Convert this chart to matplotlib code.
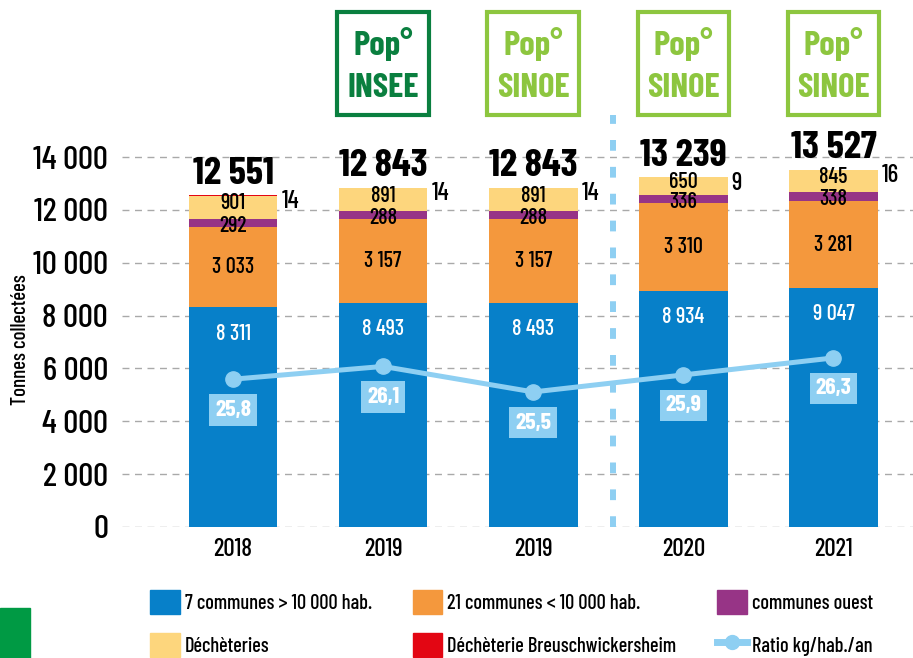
"""Tonnages collectés par type de collecte, 2018-2021, avec ratio kg/hab./an."""

import matplotlib

matplotlib.use("Agg")

import matplotlib.pyplot as plt
import numpy as np
from matplotlib import font_manager
from matplotlib.lines import Line2D
from matplotlib.patches import Patch, Rectangle

YEARS = ["2018", "2019", "2019", "2020", "2021"]
COMMUNES_7 = [8311, 8493, 8493, 8934, 9047]
COMMUNES_21 = [3033, 3157, 3157, 3310, 3281]
COMMUNES_OUEST = [292, 288, 288, 336, 338]
DECHETERIES = [901, 891, 891, 650, 845]
BREUSCHWICKERSHEIM = [14, 14, 14, 9, 16]
RATIO = [25.8, 26.1, 25.5, 25.9, 26.3]
POP_SOURCE = ["", "INSEE", "SINOE", "SINOE", "SINOE"]
Y_TICKS = [0, 2000, 4000, 6000, 8000, 10000, 12000, 14000]

BLUE = "#0780c9"
ORANGE = "#f4983d"
PURPLE = "#973486"
YELLOW = "#fdd67d"
RED = "#e30613"
LIGHT_BLUE = "#8ecff2"
DARK_GREEN = "#0a7f3f"
LIGHT_GREEN = "#8dc63f"

# condensed face if one is around, DejaVu condensed otherwise
installed = {f.name for f in font_manager.fontManager.ttflist}
FONT = next((name for name in ["Barlow Condensed", "Roboto Condensed"] if name in installed), "DejaVu Sans")
plt.rcParams["font.family"] = [FONT, "DejaVu Sans"]
plt.rcParams["font.stretch"] = "condensed"
plt.rcParams["font.weight"] = 500


def fmt(value: int) -> str:
    return f"{value:,}".replace(",", " ")


fig = plt.figure(figsize=(9.13, 6.58), dpi=100)
ax = fig.add_axes([122 / 913, 131 / 658, 791 / 913, 527 / 658])
ymax = 527 / 370 * 14000
ax.set_ylim(0, ymax)
ax.set_xlim(-0.74, 4.53)

x = np.arange(len(YEARS))
width = 0.59
# (values, colour, vertical nudge of the label in points)
layers = [
    (COMMUNES_7, BLUE, 0),
    (COMMUNES_21, ORANGE, 0),
    (COMMUNES_OUEST, PURPLE, -2),
    (DECHETERIES, YELLOW, 3),
]
bottom = np.zeros(len(YEARS))
for i, (values, color, nudge) in enumerate(layers):
    values = np.array(values)
    ax.bar(x, values, width, bottom=bottom, color=color, zorder=2)
    for xi, b, v in zip(x, bottom, values):
        if i == 0:
            # blue labels sit just under the top of the segment
            ax.annotate(fmt(v), (xi, b + v), xytext=(0, -19), textcoords="offset points",
                        ha="center", va="center", fontsize=16, color="white", zorder=3)
        else:
            ax.annotate(fmt(v), (xi, b + v / 2), xytext=(0, nudge), textcoords="offset points",
                        ha="center", va="center", fontsize=16, color="black", zorder=3)
    bottom = bottom + values
ax.bar(x, BREUSCHWICKERSHEIM, width, bottom=bottom, color=RED, zorder=2)
totals = bottom + np.array(BREUSCHWICKERSHEIM)
for xi, top, small in zip(x, totals, BREUSCHWICKERSHEIM):
    ax.annotate(str(small), (xi + width / 2, top), xytext=(3, 4), textcoords="offset points",
                ha="left", va="top", fontsize=18)
    ax.annotate(fmt(int(top)), (xi, top), xytext=(0, 3), textcoords="offset points",
                ha="center", va="bottom", fontsize=28, fontweight="bold")

# grid and axes
ax.set_yticks(Y_TICKS)
ax.set_yticklabels([fmt(t) for t in Y_TICKS], fontsize=24)
ax.set_xticks(x)
ax.set_xticklabels(YEARS, fontsize=18)
ax.tick_params(length=0)
ax.tick_params(axis="y", pad=10)
ax.tick_params(axis="x", pad=8)
for t in Y_TICKS:
    ax.axhline(t, color="#a9a9a9", lw=1, ls=(0, (5, 4)), zorder=1)
for spine in ax.spines.values():
    spine.set_visible(False)

# divider between 2019 INSEE/SINOE and later years
ax.plot([2.53, 2.53], [0, 15600], color=LIGHT_BLUE, lw=4.3, ls=(0, (1.8, 2.7)),
        solid_capstyle="butt", dash_capstyle="butt", zorder=1)

# Pop source boxes
px = ymax / 527
for xi, source in zip(x, POP_SOURCE):
    if not source:
        continue
    color = DARK_GREEN if source == "INSEE" else LIGHT_GREEN
    ax.add_patch(Rectangle((xi - 0.305, (527 - 115) * px), 0.61, 103 * px, fill=False,
                           edgecolor=color, lw=3, clip_on=False))
    ax.text(xi, (527 - 44) * px, "Pop°", ha="center", va="center", fontsize=25,
            fontweight="bold", color=color)
    ax.text(xi, (527 - 88) * px, source, ha="center", va="center", fontsize=25,
            fontweight="bold", color=color)

# ratio on hidden secondary axis
ax2 = ax.twinx()
low = 25.5 - 5110 / 1610
ax2.set_ylim(low, low + ymax / 1610)
ax2.axis("off")
ax2.plot(x, RATIO, color=LIGHT_BLUE, lw=3.6, marker="o", markersize=11, zorder=4)
for xi, r in zip(x, RATIO):
    ax2.annotate(f"{r:.1f}".replace(".", ","), (xi, r), xytext=(0, -22), textcoords="offset points",
                 ha="center", va="center", fontsize=17, fontweight="bold", color="white",
                 bbox=dict(boxstyle="square,pad=0.25", fc=LIGHT_BLUE, ec="none"))

fig.text(20 / 913, 1 - 340 / 658, "Tonnes collectées", rotation=90, ha="center", va="center", fontsize=15)

handles = [
    Patch(color=BLUE), Patch(color=YELLOW),
    Patch(color=ORANGE), Patch(color=RED),
    Patch(color=PURPLE), Line2D([], [], color=LIGHT_BLUE, lw=5, marker="o", markersize=10),
]
labels = [
    "7 communes > 10 000 hab.", "Déchèteries",
    "21 communes < 10 000 hab.", "Déchèterie Breuschwickersheim",
    "communes ouest", "Ratio kg/hab./an",
]
fig.legend(handles, labels, ncol=3, loc="upper left", bbox_to_anchor=(150 / 913, 1 - 590 / 658),
           frameon=False, fontsize=14.7, handlelength=1.45, handleheight=1.45, handletextpad=0.25,
           labelspacing=0.9, columnspacing=2.0, borderaxespad=0, borderpad=0)

fig.patches.append(Rectangle((0, 0), 30 / 913, 50 / 658, transform=fig.transFigure,
                             color="#009a44", zorder=0))

fig.savefig("out.png", dpi=100)
